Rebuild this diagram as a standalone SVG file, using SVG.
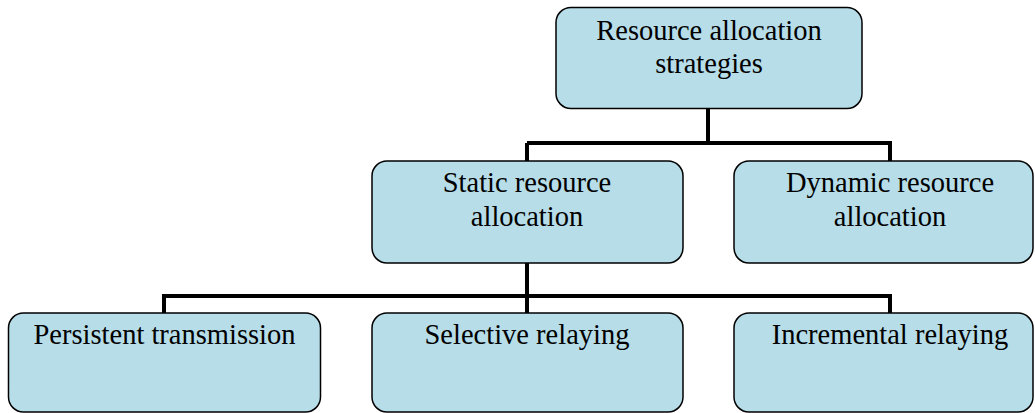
<svg xmlns="http://www.w3.org/2000/svg" width="1035" height="413" viewBox="0 0 1035 413">
<style>
.box{fill:#b7dde8;stroke:#000;stroke-width:1.5}
.lbl{font-family:"Liberation Serif","Times New Roman",serif;font-size:28.5px;fill:#000;text-anchor:middle}
.con{fill:none;stroke:#000;stroke-width:4;stroke-linecap:butt;stroke-linejoin:miter}
</style>
<rect width="1035" height="413" fill="#fff"/>
<g id="connectors">
<path class="con" d="M708 108 V143 H890 V161"/>
<path class="con" d="M527 143 H708"/>
<path class="con" d="M527 143 V161"/>
<path class="con" d="M527 263 V296"/>
<path class="con" d="M164 313 V296 H890 V313"/>
<path class="con" d="M527 296 V313"/>
</g>
<g id="root">
<rect class="box" x="556" y="7.5" width="306" height="101" rx="15"/>
<text class="lbl" x="709" y="39.5">Resource allocation</text>
<text class="lbl" x="709" y="73">strategies</text>
</g>
<g id="static">
<rect class="box" x="372" y="161" width="311" height="102" rx="15"/>
<text class="lbl" x="527" y="192">Static resource</text>
<text class="lbl" x="527" y="226">allocation</text>
</g>
<g id="dynamic">
<rect class="box" x="734" y="161" width="299" height="102" rx="15"/>
<text class="lbl" x="890" y="192">Dynamic resource</text>
<text class="lbl" x="890" y="226">allocation</text>
</g>
<g id="persistent">
<rect class="box" x="8.5" y="313" width="312" height="99" rx="15"/>
<text class="lbl" x="164.5" y="344">Persistent transmission</text>
</g>
<g id="selective">
<rect class="box" x="372" y="313" width="311" height="99" rx="15"/>
<text class="lbl" x="527" y="344">Selective relaying</text>
</g>
<g id="incremental">
<rect class="box" x="734" y="313" width="299" height="99" rx="15"/>
<text class="lbl" x="890" y="344">Incremental relaying</text>
</g>
</svg>
